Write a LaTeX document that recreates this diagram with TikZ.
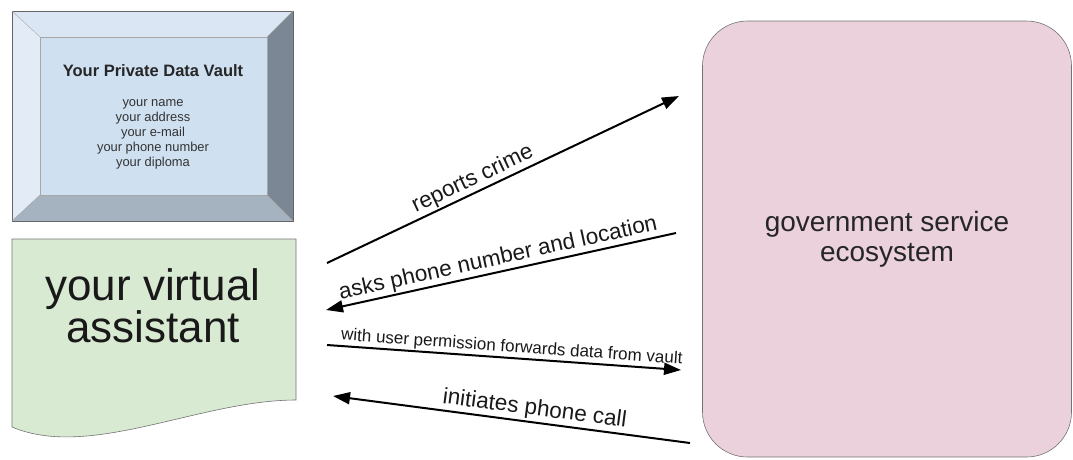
\documentclass[tikz,border=0pt]{standalone}
\usepackage{fontspec}
\setmainfont{Liberation Sans}
\usetikzlibrary{arrows.meta}

\definecolor{vaultface}{HTML}{CFE0F1}
\definecolor{vaulttop}{HTML}{DAE6F3}
\definecolor{vaultleft}{HTML}{E3ECF6}
\definecolor{vaultright}{HTML}{7B8795}
\definecolor{vaultbottom}{HTML}{A5B2C0}
\definecolor{assistfill}{HTML}{D9EAD3}
\definecolor{govfill}{HTML}{EAD1DC}

\begin{document}
\begin{tikzpicture}
  [
    x=1pt, y=-1pt,
    bevel/.style={draw=black!60,line width=0.6pt},
    docshape/.style={draw=black!55,line width=0.6pt,fill=assistfill},
    govbox/.style={draw=black!55,line width=0.6pt,fill=govfill,rounded corners=45pt,
      align=center,text=black!85,font=\fontsize{28}{30}\selectfont},
    flow/.style={line width=2pt},
    fwd/.style={flow,-{Triangle[length=17pt,width=12pt]}},
    back/.style={flow,{Triangle[length=17pt,width=12pt]}-},
    tag/.style={sloped,above,text=black!90,inner sep=1.5pt}
  ]
  \useasboundingbox (0,0) rectangle (1073,459);
  % vault
  \fill[vaulttop] (12,11) -- (293,11) -- (267,37) -- (40,37) -- cycle;
  \fill[vaultleft] (12,11) -- (40,37) -- (40,195) -- (12,221) -- cycle;
  \fill[vaultright] (293,11) -- (293,221) -- (267,195) -- (267,37) -- cycle;
  \fill[vaultbottom] (12,221) -- (40,195) -- (267,195) -- (293,221) -- cycle;
  \fill[vaultface] (40,37) rectangle (267,195);
  \draw[bevel] (12,11) rectangle (293,221);
  \draw[black!35,line width=0.4pt] (40,37) rectangle (267,195);
  \draw[black!35,line width=0.4pt] (12,11) -- (40,37) (293,11) -- (267,37)
    (12,221) -- (40,195) (293,221) -- (267,195);
  \node[font=\bfseries\fontsize{16.5}{18}\selectfont,text=black!85] (vaulttitle) at (153,71)
    {Your Private Data Vault};
  \node[font=\fontsize{12.9}{15}\selectfont,align=center,text=black!80] (vaultitems) at (153,134)
    {your name\\your address\\your e-mail\\your phone number\\your diploma};
  % assistant
  \filldraw[docshape] (12,239) -- (296,239) -- (296,400)
    .. controls (200,400) and (90,460) .. (12,427) -- cycle;
  \node[font=\fontsize{44}{42}\selectfont,align=center,text=black!90] (assistant) at (153,306)
    {your virtual\\assistant};
  % government
  \node[govbox,minimum width=369pt,minimum height=436pt] (gov) at (887,239)
    {government service\\ecosystem};
  % arrow ends
  \coordinate (crime-a) at (327,263);
  \coordinate (crime-b) at (679,96);
  \coordinate (ask-a) at (326,310);
  \coordinate (ask-b) at (676,233);
  \coordinate (fwd-a) at (327,345);
  \coordinate (fwd-b) at (681,370);
  \coordinate (call-a) at (333,396);
  \coordinate (call-b) at (690,443);
  % arrows
  \draw[fwd] (crime-a) -- node[tag,pos=0.43,font=\fontsize{22.5}{25}\selectfont] {reports crime} (crime-b);
  \draw[back] (ask-a) -- node[tag,pos=0.5,font=\fontsize{22.5}{25}\selectfont] {asks phone number and location} (ask-b);
  \draw[fwd] (fwd-a) -- node[tag,pos=0.52,font=\fontsize{17}{19}\selectfont] {with user permission forwards data from vault} (fwd-b);
  \draw[back] (call-a) -- node[tag,pos=0.56,font=\fontsize{22.5}{25}\selectfont] {initiates phone call} (call-b);
\end{tikzpicture}
\end{document}
